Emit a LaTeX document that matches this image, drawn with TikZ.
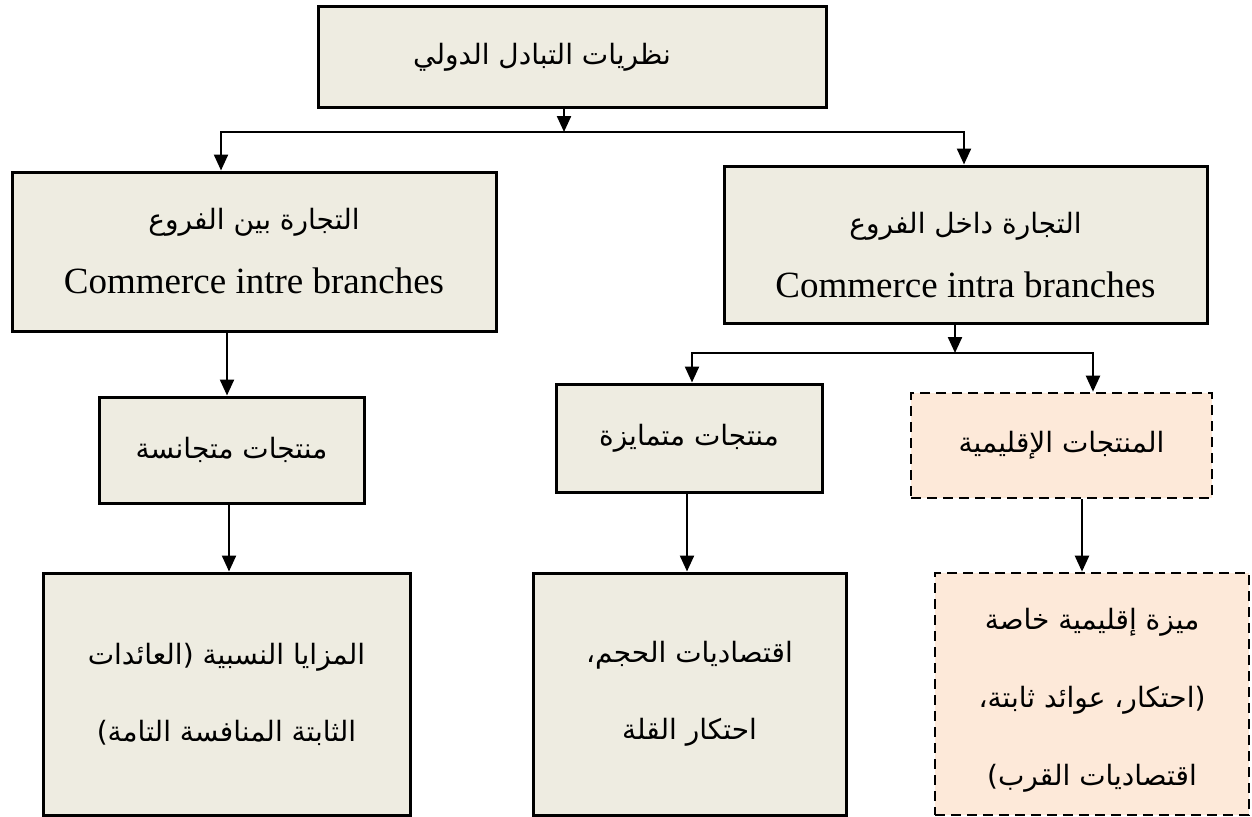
\documentclass[tikz,border=0pt]{standalone}
\usepackage{fontspec}
\setmainfont{Liberation Serif}
\newfontfamily\arabicfont[Script=Arabic]{DejaVu Sans}
\TeXXeTstate=1
\usetikzlibrary{arrows.meta}

\definecolor{boxfill}{RGB}{238,236,225}
\definecolor{regionfill}{RGB}{253,233,217}

% one right-to-left line of Arabic text
\newcommand{\artext}[1]{{\arabicfont\beginR #1\endR}}
% one line of Latin text
\newcommand{\latline}[1]{{\fontsize{37}{64}\selectfont #1}}
% invisible strut that lifts the top of a text block
\newcommand{\lift}[1]{\rule{0pt}{#1}}

\tikzset{
  flowbox/.style={draw=black, line width=3pt, fill=boxfill, rectangle,
    inner sep=0pt, align=center, font=\fontsize{28}{64}\selectfont},
  tallbox/.style={flowbox, font=\fontsize{28}{77}\selectfont},
  regionbox/.style={flowbox, fill=regionfill, line width=2.6pt,
    dash pattern=on 10pt off 6pt},
  tallregion/.style={regionbox, font=\fontsize{28}{78}\selectfont},
  link/.style={line width=2.3pt, -{Triangle[width=14pt,length=16pt]}},
}

\begin{document}
\begin{tikzpicture}[x=1pt,y=-1pt]
\path[use as bounding box] (0,0) rectangle (1252,816);

% level 1
\node[flowbox, minimum width=508pt, minimum height=100pt] (theories) at (572,57)
  {\artext{نظريات التبادل الدولي}\kern60pt};

% level 2
\node[flowbox, minimum width=484pt, minimum height=159pt] (inter) at (254,251.5)
  {\artext{التجارة بين الفروع}\\ \latline{Commerce intre branches}};
\node[flowbox, minimum width=483pt, minimum height=157pt] (intra) at (965.5,244.5)
  {\lift{42pt}\artext{التجارة داخل الفروع}\\ \latline{Commerce intra branches}};

% level 3
\node[flowbox, minimum width=265pt, minimum height=106pt] (homog) at (231.5,450)
  {\artext{منتجات متجانسة}};
\node[flowbox, minimum width=266pt, minimum height=108pt] (diff) at (689,438)
  {\artext{منتجات متمايزة}};
\node[regionbox, minimum width=301pt, minimum height=105pt] (regional) at (1061.5,445.5)
  {\artext{المنتجات الإقليمية}};

% level 4
\node[tallbox, minimum width=367pt, minimum height=242pt] (comparative) at (226.5,694)
  {\artext{المزايا النسبية (العائدات}\\
   \artext{الثابتة المنافسة التامة)}};
\node[tallbox, minimum width=313pt, minimum height=242pt] (scale) at (689.5,694)
  {\artext{اقتصاديات الحجم،}\\
   \artext{احتكار القلة}};
\node[tallregion, minimum width=314pt, minimum height=242pt] (advantage) at (1092,694)
  {\lift{34pt}\artext{ميزة إقليمية خاصة}\\
   \artext{(احتكار، عوائد ثابتة،}\\
   \artext{اقتصاديات القرب)}};

% branching below the top box
\coordinate (j1) at (564,132);
\draw[link] (theories.south -| j1) -- (j1);
\draw[link] (j1) -| ([xshift=-33pt]inter.north);
\draw[link] (j1) -| ([xshift=-1.5pt]intra.north);

% left column
\draw[link] ([xshift=-27pt]inter.south) -- ([xshift=-27pt]inter.south |- homog.north);
\draw[link] ([xshift=-2.5pt]homog.south) -- ([xshift=-2.5pt]homog.south |- comparative.north);

% right side branching
\coordinate (j2) at (955,353);
\draw[link] (intra.south -| j2) -- (j2);
\draw[link] (j2) -| ([xshift=3pt]diff.north);
\draw[link] (j2) -| ([xshift=31.5pt]regional.north);
\draw[link] ([xshift=-2pt]diff.south) -- ([xshift=-2pt]diff.south |- scale.north);
\draw[link] ([xshift=20.5pt]regional.south) -- ([xshift=20.5pt]regional.south |- advantage.north);
\end{tikzpicture}
\end{document}
